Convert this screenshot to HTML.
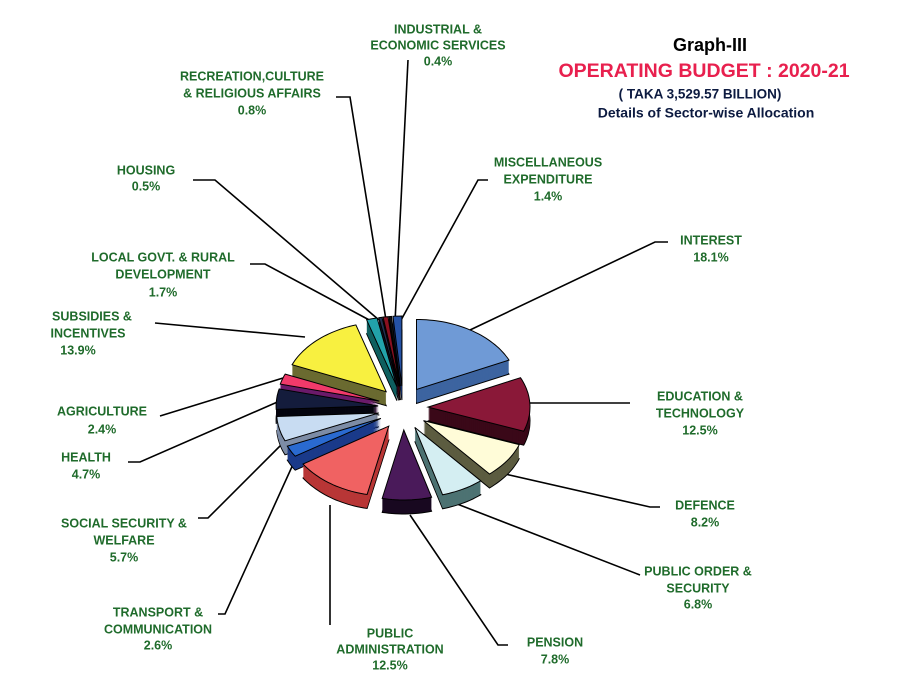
<!DOCTYPE html>
<html><head><meta charset="utf-8"><style>
html,body{margin:0;padding:0;background:#fff;}
svg{display:block;}
.l{font-family:"Liberation Sans",sans-serif;font-weight:bold;font-size:12.5px;fill:#1f6b2b;text-anchor:middle;dominant-baseline:middle;}
.t{font-family:"Liberation Sans",sans-serif;font-weight:bold;text-anchor:middle;dominant-baseline:middle;}
</style></head><body>
<svg id="s" width="900" height="693" viewBox="0 0 900 693" xmlns="http://www.w3.org/2000/svg">
<text class="t" x="710" y="46" font-size="18" fill="#000">Graph-III</text>
<text class="t" x="704" y="72" font-size="19.5" fill="#e8204e">OPERATING BUDGET : 2020-21</text>
<text class="t" x="700" y="95" font-size="13.5" fill="#0c1a40">( TAKA 3,529.57 BILLION)</text>
<text class="t" x="706" y="114" font-size="14" fill="#0c1a40">Details of Sector-wise Allocation</text>

<g stroke="#000" stroke-width="1.6" fill="none">
<polyline points="408,60 395,322"/>
<polyline points="336,97 350,97 386,320"/>
<polyline points="193,180 215,180 379,320"/>
<polyline points="250,264 265,264 373,322"/>
<polyline points="155,323 305,337"/>
<polyline points="160,416 283,378"/>
<polyline points="128,462 140,462 282,400"/>
<polyline points="198,518 208,518 286,440"/>
<polyline points="218,614 225,614 295,460"/>
<polyline points="330,625 330,505"/>
<polyline points="508,645 498,645 410,515"/>
<polyline points="640,575 452,502"/>
<polyline points="660,507 650,507 505,474"/>
<polyline points="630,403 525,403"/>
<polyline points="668,242 655,242 470,330"/>
<polyline points="488,180 478,180 400,322"/>
</g>

<g id="pie"></g>

<text class="l" x="438" y="30">INDUSTRIAL &amp;</text>
<text class="l" x="438" y="46">ECONOMIC SERVICES</text>
<text class="l" x="438" y="62">0.4%</text>
<text class="l" x="252" y="77">RECREATION,CULTURE</text>
<text class="l" x="252" y="94">&amp; RELIGIOUS AFFAIRS</text>
<text class="l" x="252" y="111">0.8%</text>
<text class="l" x="146" y="171">HOUSING</text>
<text class="l" x="146" y="187">0.5%</text>
<text class="l" x="163" y="258">LOCAL GOVT. &amp; RURAL</text>
<text class="l" x="163" y="275">DEVELOPMENT</text>
<text class="l" x="163" y="293">1.7%</text>
<text class="l" x="92" y="317">SUBSIDIES &amp;</text>
<text class="l" x="88" y="334">INCENTIVES</text>
<text class="l" x="78" y="351">13.9%</text>
<text class="l" x="102" y="412">AGRICULTURE</text>
<text class="l" x="102" y="430">2.4%</text>
<text class="l" x="86" y="458">HEALTH</text>
<text class="l" x="86" y="475">4.7%</text>
<text class="l" x="124" y="524">SOCIAL SECURITY &amp;</text>
<text class="l" x="124" y="541">WELFARE</text>
<text class="l" x="124" y="558">5.7%</text>
<text class="l" x="158" y="613">TRANSPORT &amp;</text>
<text class="l" x="158" y="630">COMMUNICATION</text>
<text class="l" x="158" y="646">2.6%</text>
<text class="l" x="390" y="634">PUBLIC</text>
<text class="l" x="390" y="650">ADMINISTRATION</text>
<text class="l" x="390" y="666">12.5%</text>
<text class="l" x="555" y="643">PENSION</text>
<text class="l" x="555" y="660">7.8%</text>
<text class="l" x="698" y="572">PUBLIC ORDER &amp;</text>
<text class="l" x="698" y="589">SECURITY</text>
<text class="l" x="698" y="605">6.8%</text>
<text class="l" x="705" y="506">DEFENCE</text>
<text class="l" x="705" y="523">8.2%</text>
<text class="l" x="700" y="397">EDUCATION &amp;</text>
<text class="l" x="700" y="414">TECHNOLOGY</text>
<text class="l" x="700" y="431">12.5%</text>
<text class="l" x="711" y="241">INTEREST</text>
<text class="l" x="711" y="258">18.1%</text>
<text class="l" x="548" y="163">MISCELLANEOUS</text>
<text class="l" x="548" y="180">EXPENDITURE</text>
<text class="l" x="548" y="197">1.4%</text>
</svg>
<script>
var data=[[18.1,"#6f9ad6","#3d64a0"],[12.5,"#8a1838","#3a0818"],[8.2,"#fffcd8","#5c5c40"],[6.8,"#d4eef2","#4d7272"],[7.8,"#4a1a5a","#180820"],[12.5,"#f06262","#b83636"],[2.6,"#2a6ad0","#1a3a8a"],[5.7,"#c8dcf2","#7d8ca6"],[4.7,"#141c3c","#05050f"],[2.4,"#f03a6a","#6a1a6a"],[13.9,"#f8f040","#6a6a30"],[1.7,"#22a2aa","#106060"],[0.5,"#203050","#101020"],[0.8,"#8a1020","#400010"],[0.4,"#101010","#000"],[1.4,"#2552a5","#142e66"]];
var cx=403,cy=408,rx=102,ry=70,ex=25,ey=22,D=14;
var g=document.getElementById("pie"),a=0,sl=[];
data.forEach(function(d){var a0=a*3.6*Math.PI/180;a+=d[0];var a1=a*3.6*Math.PI/180;var m=(a0+a1)/2;
var ox=cx+ex*Math.sin(m),oy=cy-ey*Math.cos(m);var pts=[[ox,oy]];var n=Math.max(2,Math.ceil((a1-a0)*30));
for(var i=0;i<=n;i++){var t=a0+(a1-a0)*i/n;pts.push([ox+rx*Math.sin(t),oy-ry*Math.cos(t)]);}
sl.push({pts:pts,c:d[1],s:d[2],y:-Math.cos(m)});});
sl.sort(function(p,q){return p.y-q.y;});
function P(pts,dy){return pts.map(function(p){return p[0].toFixed(1)+","+(p[1]+dy).toFixed(1);}).join(" ");}
var h="";
sl.forEach(function(s){
h+='<polygon points="'+P(s.pts,D)+'" fill="'+s.s+'" stroke="#000" stroke-width="1"/>';
for(var k=D-1;k>0;k--)h+='<polygon points="'+P(s.pts,k)+'" fill="'+s.s+'"/>';
h+='<polygon points="'+P(s.pts,0)+'" fill="'+s.c+'" stroke="#000" stroke-width="1"/>';});
g.innerHTML=h;
</script>
</body></html>
